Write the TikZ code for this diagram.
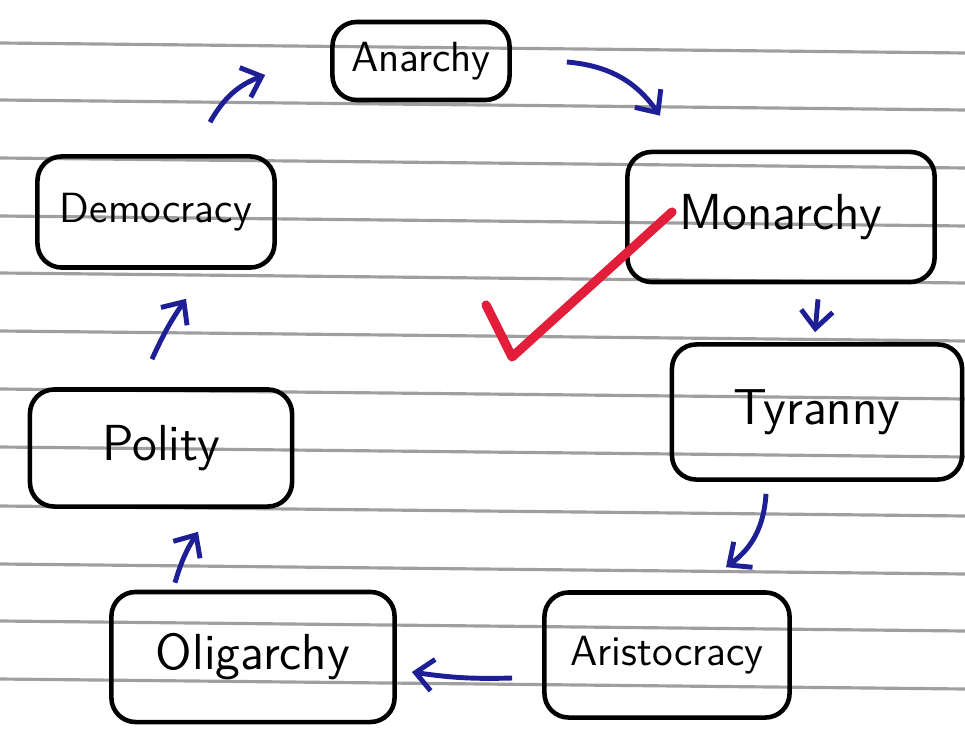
\documentclass[tikz,border=0pt]{standalone}
\usepackage{amsmath}
\usepackage{xcolor}
\usepackage{tikz}
\usetikzlibrary{positioning, arrows.meta}
\definecolor{inkblue}{RGB}{30,30,150}
\definecolor{tickred}{RGB}{226,30,58}

\begin{document}
\begin{tikzpicture}[x=0.01cm, y=-0.01cm,
  stage/.style={draw, line width=1.3pt, rounded corners=1.6ex, font=\sffamily\large, inner sep=0pt},
  flow/.style={-{Straight Barb[length=5pt, width=9pt]}, inkblue, line width=1.4pt},
  ruled/.style={gray!75, line width=0.9pt}]
\useasboundingbox (0,0) rectangle (965,728);
% ruled paper
\foreach \y in {43,100,158,216,273,331,389,447,506,564,621,679}
  \draw[ruled] (0,\y) -- (965,\y+10);
%
\node[stage, minimum width=1.77cm, minimum height=0.78cm] (anarchy) at (421,61) {Anarchy};
\node[stage, minimum width=3.07cm, minimum height=1.30cm, font=\sffamily\Large] (monarchy) at (781,217) {Monarchy};
\node[stage, minimum width=2.90cm, minimum height=1.35cm, font=\sffamily\Large] (tyranny) at (817,412) {Tyranny};
\node[stage, minimum width=2.45cm, minimum height=1.25cm] (aristocracy) at (667,655) {Aristocracy};
\node[stage, minimum width=2.83cm, minimum height=1.30cm, font=\sffamily\Large] (oligarchy) at (253,657) {Oligarchy};
\node[stage, minimum width=2.62cm, minimum height=1.17cm, font=\sffamily\Large] (polity) at (161,448) {Polity};
\node[stage, minimum width=2.37cm, minimum height=1.11cm] (democracy) at (156,212) {Democracy};
%
\draw[flow] ([shift={(54,-32)}]democracy.north) to[bend left=20] ([shift={(-65,14)}]anarchy.west);
\draw[flow] ([shift={(55,1)}]anarchy.east) to[bend left=25] ([shift={(-121,-34)}]monarchy.north);
\draw[flow] ([shift={(37,15)}]monarchy.south) -- ([shift={(-2,-10)}]tyranny.north);
\draw[flow] ([shift={(-51,12)}]tyranny.south) to[bend left=25] ([shift={(59,-23)}]aristocracy.north);
\draw[flow] ([shift={(-30,23)}]aristocracy.west) to[bend left=5] ([shift={(15,15)}]oligarchy.east);
\draw[flow] ([shift={(-78,-7)}]oligarchy.north) to[bend left=8] ([shift={(37,23)}]polity.south);
\draw[flow] ([shift={(-9,-28)}]polity.north) to[bend left=5] ([shift={(30,29)}]democracy.south);
%
\draw[tickred, line width=2.6pt, line cap=round, line join=round] (486,305) -- (512,357) -- (672,212);
\end{tikzpicture}
\end{document}
